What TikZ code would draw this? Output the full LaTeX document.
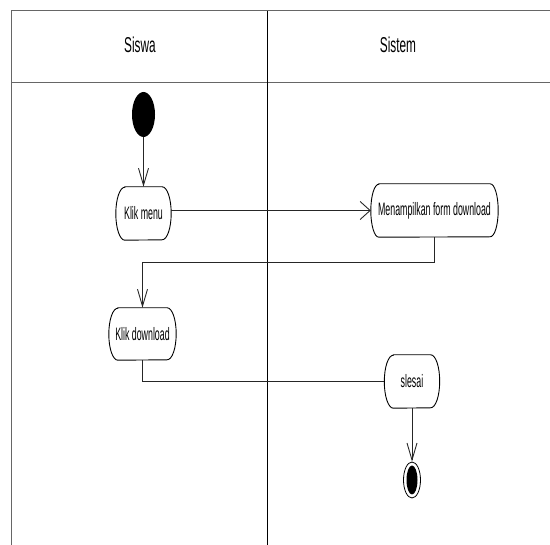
\documentclass[tikz,border=0pt]{standalone}
\usepackage{fontspec}
\newfontfamily\nfont[FakeStretch=0.55]{Liberation Sans}
\newfontfamily\afont[FakeStretch=0.49]{Liberation Sans}
\usetikzlibrary{arrows.meta,shapes.geometric,calc}
\begin{document}
\begin{tikzpicture}[x=1pt,y=-1pt,
  frame/.style={draw=gray!80!black, line width=1pt},
  divider/.style={draw=black, line width=0.9pt},
  act/.style={inner sep=0pt, font=\afont\fontsize{18}{20}\selectfont},
  outline/.style={draw=black, line width=0.9pt},
  flow/.style={draw=black!85, line width=0.9pt},
  varr/.style={-{Straight Barb[length=17pt,width=10pt]}},
  harr/.style={-{Straight Barb[length=10pt,width=18pt]}},
  lane/.style={font=\nfont\fontsize{21.5}{24}\selectfont}]
\useasboundingbox (0,0) rectangle (550,545);
% swimlane frame
\draw[frame] (11,545) -- (11,11) -- (550,11);
\draw[frame] (11,83) -- (550,83);
\draw[divider] (267,11) -- (267,545);
\node[lane] (siswa) at (140,45) {Siswa};
\node[lane] (sistem) at (398,45) {Sistem};
% nodes
\node[ellipse, fill=black, minimum width=23pt, minimum height=45pt, inner sep=0pt] (start) at (143.5,114.5) {};
\node[act, minimum width=55pt, minimum height=53pt] (km) at (143.5,213.5) {Klik menu};
\node[act, minimum width=127pt, minimum height=53pt] (mf) at (434.5,210.5) {Menampilkan form download};
\node[act, minimum width=67pt, minimum height=52pt] (kd) at (142.5,334) {Klik download};
\node[act, minimum width=55pt, minimum height=53pt] (sl) at (412,381.5) {slesai};
\node[ellipse, draw=black, line width=0.8pt, fill=white, minimum width=17pt, minimum height=36pt, inner sep=0pt] (fin) at (412,480) {};
\node[ellipse, fill=black, minimum width=11pt, minimum height=29pt, inner sep=0pt] (finin) at (fin) {};
% activity outlines (elliptic ends)
\foreach \n/\rx/\ry in {km/9/26.5, mf/8/26.5, kd/9/26, sl/9/26.5}{
  \draw[outline] ([xshift=\rx pt]\n.north west) -- ([xshift=-\rx pt]\n.north east)
    arc[start angle=90, end angle=-90, x radius=\rx pt, y radius=\ry pt]
    -- ([xshift=\rx pt]\n.south west)
    arc[start angle=270, end angle=90, x radius=\rx pt, y radius=\ry pt] -- cycle;
}
% connectors
\draw[flow,varr] (start) -- (km);
\draw[flow,harr] (km.east |- mf.west) -- (mf.west);
\draw[flow,varr] (mf.south) -- ++(0,25) -| (kd.north);
\draw[flow] (kd.south) |- (sl.west);
\draw[flow,varr] (sl.south) -- (fin.north);
\end{tikzpicture}
\end{document}
